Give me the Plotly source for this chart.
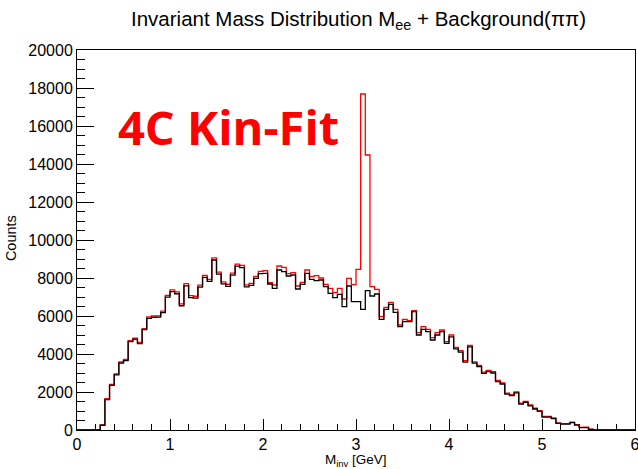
import numpy as np
import plotly.graph_objects as go

# Histogram binning (GeV)
bin_low = 0.0
bin_width = 0.05

# Background-only (black) histogram counts, 120 bins from 0 to 6 GeV
counts_bkg = [
    0, 0, 0, 0, 0, 250, 1600, 2350, 2900, 3520,
    3650, 4650, 4770, 4550, 5280, 5880, 5930, 5940, 6180, 6990,
    7280, 7170, 6540, 7590, 6970, 6940, 7520, 8035, 7820, 8947,
    8200, 7690, 7560, 8150, 8620, 8550, 7530, 7610, 7980, 8230,
    8246, 7684, 7456, 8421, 8333, 8105, 8158, 7421, 7667, 8246,
    7930, 7860, 7895, 7544, 7193, 6965, 7140, 6491, 7579, 6754,
    6754, 6351, 7333, 7053, 7158, 5825, 6351, 6614, 6193, 5439,
    5702, 5702, 6228, 5000, 5298, 5175, 4737, 5000, 5175, 4560,
    4900, 4270, 4100, 3570, 4370, 3520, 3333, 2982, 3070, 3000,
    2544, 2421, 1886, 1807, 1950, 1360, 1450, 1270, 1105, 980,
    680, 680, 600, 351, 310, 310, 390, 260, 123, 130,
    35, 0, 0, 0, 0, 0, 0, 0, 0, 0,
]

# Signal M_ee + background (red) histogram counts
counts_total = [
    0, 0, 0, 0, 0, 270, 1650, 2400, 2950, 3580,
    3720, 4700, 4830, 4610, 5340, 5950, 6000, 6010, 6260, 7090,
    7380, 7270, 6640, 7700, 7070, 7040, 7630, 8140, 7930, 9060,
    8310, 7800, 7670, 8260, 8730, 8660, 7640, 7720, 8090, 8350,
    8386, 7754, 7632, 8632, 8560, 8230, 8280, 7579, 7772, 8421,
    8070, 8120, 8000, 7667, 7456, 7228, 7456, 6895, 7982, 7650,
    8456, 17684, 14474, 7544, 7404, 5965, 6456, 6719, 6351, 5526,
    5825, 5754, 6280, 5123, 5439, 5298, 4860, 5123, 5263, 4650,
    5000, 4350, 4180, 3650, 4450, 3590, 3400, 3050, 3140, 3070,
    2610, 2480, 1940, 1860, 2010, 1410, 1500, 1320, 1150, 1020,
    720, 720, 640, 380, 335, 335, 410, 280, 140, 145,
    45, 10, 0, 0, 0, 0, 0, 0, 0, 0,
]

x_ticks = [0, 1, 2, 3, 4, 5, 6]
x_tick_labels = ["0", "1", "2", "3", "4", "5", "6"]
y_ticks = [0, 2000, 4000, 6000, 8000, 10000, 12000, 14000, 16000, 18000, 20000]
y_tick_labels = ["0", "2000", "4000", "6000", "8000", "10000", "12000", "14000", "16000", "18000", "20000"]

n = len(counts_bkg)
edges = bin_low + bin_width * np.arange(n + 1)


def step(vals):
    return list(edges), list(vals) + [vals[-1]]


FONT = "Liberation Sans"

fig = go.Figure()
xr, yr = step(counts_total)
fig.add_trace(go.Scatter(x=xr, y=yr, mode="lines", line=dict(color="#ff0000", width=1.3, shape="hv"),
                         hoverinfo="skip", showlegend=False, cliponaxis=True))
xb, yb = step(counts_bkg)
fig.add_trace(go.Scatter(x=xb, y=yb, mode="lines", line=dict(color="#000000", width=1.3, shape="hv"),
                         hoverinfo="skip", showlegend=False, cliponaxis=True))

axis_common = dict(showgrid=False, zeroline=False, showline=True, linecolor="black", linewidth=1,
                   mirror=True, ticks="inside", tickcolor="black", ticklabeloverflow="allow",
                   automargin=False,
                   tickfont=dict(family=FONT, size=16, color="black"))

fig.update_layout(
    width=638, height=469,
    margin=dict(l=77, r=3, t=50, b=39),
    paper_bgcolor="white", plot_bgcolor="white",
    xaxis=dict(range=[0, 6], tickvals=x_ticks, ticktext=x_tick_labels, ticklen=11,
               minor=dict(dtick=0.2, ticklen=6, ticks="inside", tickcolor="black", showgrid=False),
               **axis_common),
    yaxis=dict(range=[0, 20000], tickvals=y_ticks, ticktext=y_tick_labels, ticklen=17,
               minor=dict(dtick=500, ticklen=8, ticks="inside", tickcolor="black", showgrid=False),
               **axis_common),
    annotations=[
        dict(text="Invariant Mass Distribution M<sub>ee</sub> + Background(ππ)", xref="paper", yref="paper",
             x=(358 - 77) / 558, y=(430 - 20) / 380, xanchor="center", yanchor="middle", showarrow=False,
             font=dict(family=FONT, size=20.5, color="black")),
        dict(text="M<sub>inv</sub> [GeV]", xref="paper", yref="paper",
             x=0.5, y=-31 / 380, xanchor="center", yanchor="middle", showarrow=False,
             font=dict(family=FONT, size=13.5, color="black")),
        dict(text="Counts", xref="paper", yref="paper", textangle=-90,
             x=-66 / 558, y=0.505, xanchor="center", yanchor="middle", showarrow=False,
             font=dict(family=FONT, size=14.5, color="black")),
        dict(text="<b>4C Kin-Fit</b>", xref="paper", yref="paper",
             x=(228 - 77) / 558, y=(430 - 127) / 380, xanchor="center", yanchor="middle", showarrow=False,
             font=dict(family="Open Sans", size=47, color="#ff0000")),
    ],
)

fig.write_html("out.html")
